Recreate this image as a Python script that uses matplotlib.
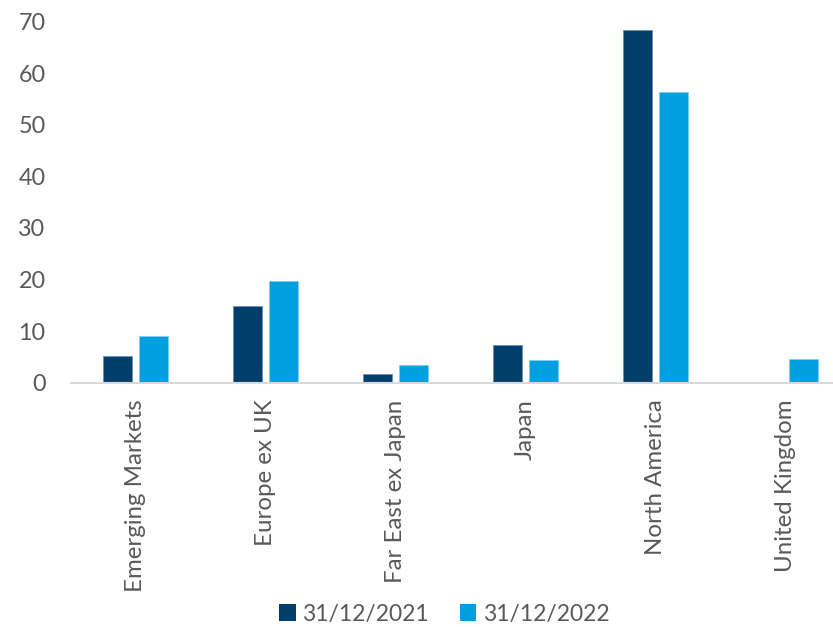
import matplotlib
matplotlib.use("Agg")
import matplotlib.pyplot as plt
import numpy as np
from matplotlib.patches import Patch

categories = ["Emerging Markets", "Europe ex UK", "Far East ex Japan", "Japan",
              "North America", "United Kingdom"]
series_2021 = [5.2, 14.9, 1.7, 7.4, 68.3, 0.0]
series_2022 = [9.1, 19.8, 3.4, 4.4, 56.3, 4.6]
series_names = ["31/12/2021", "31/12/2022"]
yticks = [0, 10, 20, 30, 40, 50, 60, 70]

dark = "#003F6C"
light = "#009FDF"
text_color = "#595959"

plt.rcParams['font.family'] = ['Lato', 'DejaVu Sans']

W, H = 833, 627
fig = plt.figure(figsize=(W / 100, H / 100), dpi=100)
left = 70.5 / W
bottom = 1 - 382.7 / H
top = 1 - 21.5 / H
ax = fig.add_axes([left, bottom, 1 - left, top - bottom])

x = np.arange(len(categories))
bw = 0.223
off = 0.141
ax.bar(x - off, series_2021, bw, color=dark, edgecolor="#6F8FAF", linewidth=0.6, label=series_names[0])
ax.bar(x + off, series_2022, bw, color=light, edgecolor="#7FCFEF", linewidth=0.6, label=series_names[1])

ax.set_ylim(0, 70)
ax.set_xlim(-0.5, 5.5 - 17.5 / 130)
ax.set_yticks(yticks)
ax.set_xticks(x)
ax.set_xticklabels(categories, rotation=90, fontsize=17.3, color=text_color, va="top")
ax.tick_params(axis="y", length=0, pad=18, labelsize=16.8, labelcolor=text_color)
ax.tick_params(axis="x", length=0, pad=12)
for s in ["top", "right", "left"]:
    ax.spines[s].set_visible(False)
ax.spines["bottom"].set_color("#D9D9D9")
ax.spines["bottom"].set_linewidth(1.5)

handles = [Patch(facecolor=dark), Patch(facecolor=light)]
leg = fig.legend(handles, series_names, loc="center", bbox_to_anchor=(444.5 / W, 1 - 614 / H),
                 ncol=2, frameon=False, fontsize=16.5, handlelength=0.7, handleheight=0.7,
                 handletextpad=0.3, columnspacing=1.35)
for t in leg.get_texts():
    t.set_color(text_color)

fig.savefig("out.png", dpi=100)
